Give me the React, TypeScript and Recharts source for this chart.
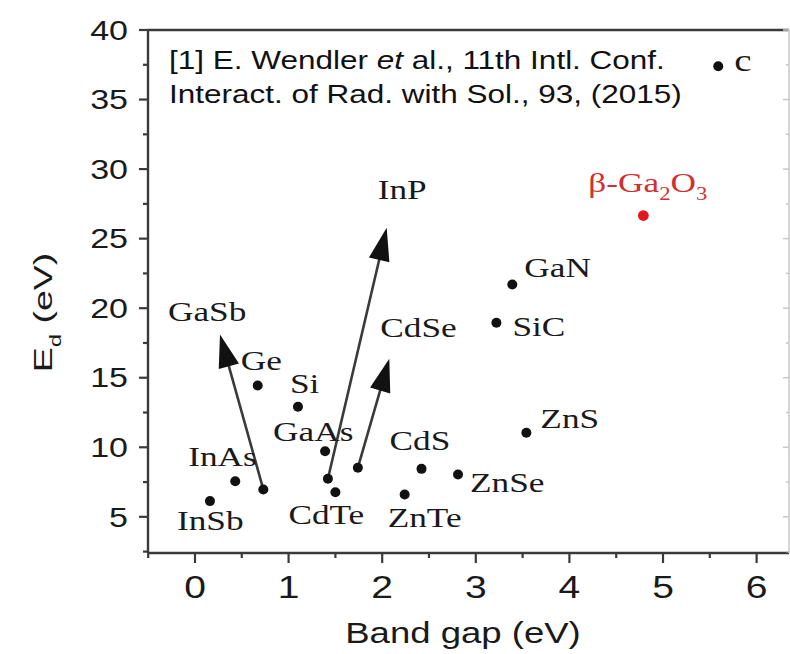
import React from 'react';
import { ScatterChart, Scatter, XAxis, YAxis, ReferenceLine, Customized } from 'recharts';

// Threshold displacement energy vs. band gap for common semiconductors
const materials = ['InSb', 'InAs', 'GaSb', 'Ge', 'Si', 'GaAs', 'InP', 'CdTe', 'CdSe', 'ZnTe', 'CdS', 'ZnSe', 'SiC', 'GaN', 'ZnS', 'c'];
const bandGapEv = [0.16, 0.43, 0.73, 0.67, 1.1, 1.39, 1.42, 1.5, 1.74, 2.24, 2.42, 2.81, 3.22, 3.39, 3.54, 5.59];
const displacementEv = [6.13, 7.56, 6.97, 14.44, 12.91, 9.72, 7.74, 6.77, 8.53, 6.61, 8.45, 8.04, 18.95, 21.7, 11.04, 37.4];

// Highlighted oxide
const oxideBandGapEv = [4.79];
const oxideDisplacementEv = [26.66];

// Arrows from a material's point to a revised value
const arrowFrom = ['GaSb', 'InP', 'CdSe'];
const arrowToBandGap = [0.267, 2.048, 2.076];
const arrowToDisplacement = [18.11, 25.78, 16.36];

// Axis ticks
const xTicks = [-0.5, 0, 0.5, 1, 1.5, 2, 2.5, 3, 3.5, 4, 4.5, 5, 5.5, 6];
const xTickLabels = ['0', '1', '2', '3', '4', '5', '6'];
const yTicks = [2.5, 5, 7.5, 10, 12.5, 15, 17.5, 20, 22.5, 25, 27.5, 30, 32.5, 35, 37.5, 40];
const yTickLabels = ['5', '10', '15', '20', '25', '30', '35', '40'];

const X_DOMAIN: [number, number] = [-0.502, 6.346];
const Y_DOMAIN: [number, number] = [2.4, 40];

const SERIF = '"Liberation Serif", "Times New Roman", "DejaVu Serif", serif';
const SANS = '"Liberation Sans", Arial, "DejaVu Sans", sans-serif';
const STRETCH = 1.26;
const AXIS_COLOR = '#3a3a3a';
const INK = '#1a1a1a';

// Label placement relative to each point (px)
const labelOffsets: Record<string, [number, number]> = {
  InSb: [-33, 29],
  InAs: [-47, -15],
  Ge: [-17, -16],
  Si: [-8, -14],
  GaAs: [-52, -10],
  CdTe: [-47, 32],
  ZnTe: [-17, 33],
  CdS: [-32, -19],
  ZnSe: [12, 17],
  SiC: [16, 13],
  GaN: [12, -8],
  ZnS: [14, -5],
  c: [16, 5],
};
const labelSizes: Record<string, number> = { c: 31 };
// Label placement relative to each arrow tip (px)
const arrowLabelOffsets: Record<string, [number, number]> = {
  GaSb: [-52, -13],
  InP: [-9, -29],
  CdSe: [-9, -22],
};

const points = materials.map((name, i) => ({ name, gap: bandGapEv[i], ed: displacementEv[i] }));
const oxidePoints = oxideBandGapEv.map((gap, i) => ({ name: 'β-Ga2O3', gap, ed: oxideDisplacementEv[i] }));

function Stretched(props: {
  x: number; y: number; size: number; family: string; fill?: string;
  anchor?: 'start' | 'middle' | 'end'; sx?: number; children: React.ReactNode;
}) {
  const { x, y, size, family, fill = INK, anchor = 'start', sx = STRETCH, children } = props;
  return (
    <g transform={`translate(${x},${y}) scale(${sx},1)`}>
      <text x={0} y={0} fontSize={size} fontFamily={family} fill={fill} textAnchor={anchor}>
        {children}
      </text>
    </g>
  );
}

const PointShape = (props: any) => {
  const { cx, cy, payload } = props;
  const off = labelOffsets[payload.name];
  return (
    <g>
      <circle cx={cx} cy={cy} r={5} fill="#111" />
      {off && (
        <Stretched x={cx + off[0]} y={cy + off[1]} size={labelSizes[payload.name] ?? 28} family={SERIF}>
          {payload.name}
        </Stretched>
      )}
    </g>
  );
};

const OxideShape = (props: any) => {
  const { cx, cy } = props;
  return (
    <g>
      <circle cx={cx} cy={cy} r={5.4} fill="#e8161c" />
      <g transform={`translate(${cx - 55},${cy - 24}) scale(${STRETCH},1)`}>
        <text x={0} y={0} fontSize={28} fontFamily={SERIF} fill="#cf3030">
          β-Ga
          <tspan dy={8} fontSize={18}>2</tspan>
          <tspan dy={-8}>O</tspan>
          <tspan dy={8} fontSize={18}>3</tspan>
        </text>
      </g>
    </g>
  );
};

const makeArrowShape = (name: string) => (props: any) => {
  const { x1, y1, x2, y2 } = props;
  const dx = x2 - x1;
  const dy = y2 - y1;
  const len = Math.hypot(dx, dy) || 1;
  const ux = dx / len;
  const uy = dy / len;
  const headLen = 33;
  const headHalf = 10.5;
  const bx = x2 - ux * headLen;
  const by = y2 - uy * headLen;
  const px = -uy;
  const py = ux;
  const off = arrowLabelOffsets[name];
  return (
    <g>
      <line x1={x1} y1={y1} x2={bx + ux * 4} y2={by + uy * 4} stroke="#3a3a3a" strokeWidth={2.6} />
      <polygon
        points={`${x2},${y2} ${bx + px * headHalf},${by + py * headHalf} ${bx - px * headHalf},${by - py * headHalf}`}
        fill="#111"
      />
      {off && (
        <Stretched x={x2 + off[0]} y={y2 + off[1]} size={28} family={SERIF}>
          {name}
        </Stretched>
      )}
    </g>
  );
};

const isMajorX = (v: number) => Math.abs(v - Math.round(v)) < 1e-6;
const isMajorY = (v: number) => Math.abs(v / 5 - Math.round(v / 5)) < 1e-6;

const BottomTick = (props: any) => {
  const { x, y, payload } = props;
  const v = payload.value;
  const major = isMajorX(v);
  const label = major ? xTickLabels[Math.round(v)] : undefined;
  return (
    <g>
      <line x1={x} y1={y} x2={x} y2={y + (major ? 10 : 5)} stroke={AXIS_COLOR} strokeWidth={2.2} />
      {label !== undefined && (
        <Stretched x={x} y={y + 45} size={31} family={SANS} anchor="middle">
          {label}
        </Stretched>
      )}
    </g>
  );
};

const TopTick = (props: any) => {
  const { x, y, payload } = props;
  const major = isMajorX(payload.value);
  return <line x1={x} y1={y} x2={x} y2={y - (major ? 10 : 5)} stroke={AXIS_COLOR} strokeWidth={2.2} />;
};

const LeftTick = (props: any) => {
  const { x, y, payload } = props;
  const v = payload.value;
  const major = isMajorY(v);
  const idx = Math.round(v / 5) - 1;
  const label = major ? yTickLabels[idx] : undefined;
  return (
    <g>
      <line x1={x} y1={y} x2={x - (major ? 9 : 5)} y2={y} stroke={AXIS_COLOR} strokeWidth={2.2} />
      {label !== undefined && (
        <Stretched x={x - 20} y={y + 9.7} size={27} family={SANS} anchor="end">
          {label}
        </Stretched>
      )}
    </g>
  );
};

const RightTick = (props: any) => {
  const { x, y, payload } = props;
  const major = isMajorY(payload.value);
  return <line x1={x} y1={y} x2={x - (major ? 6 : 3)} y2={y} stroke="#c8c8c8" strokeWidth={1.5} />;
};

const Annotations = () => (
  <g>
    <g transform={`translate(169,69.3) scale(${STRETCH},1)`}>
      <text x={0} y={0} fontSize={25} fontFamily={SANS} fill="#111">
        [1] E. Wendler <tspan fontStyle="italic">et</tspan> al., 11th Intl. Conf.
      </text>
    </g>
    <Stretched x={169} y={103.3} size={25} family={SANS} fill="#111">
      Interact. of Rad. with Sol., 93, (2015)
    </Stretched>
    <Stretched x={463} y={643} size={29} family={SANS} anchor="middle">
      Band gap (eV)
    </Stretched>
    <g transform="translate(52,312.5) rotate(-90) scale(1.5,1)">
      <text x={0} y={0} fontSize={25} fontFamily={SANS} fill={INK} textAnchor="middle">
        E<tspan dy={9} fontSize={16}>d</tspan>
        <tspan dy={-9}> (eV)</tspan>
      </text>
    </g>
  </g>
);

export default function App() {
  return (
    <div style={{ position: 'absolute', left: 0, top: 0, width: 790, height: 654, background: '#fff', overflow: 'hidden' }}>
      <ScatterChart width={790} height={654} margin={{ top: 29, right: 0, bottom: 100, left: 147 }}>
        <XAxis
          type="number"
          dataKey="gap"
          domain={X_DOMAIN}
          ticks={xTicks}
          interval={0}
          height={1}
          tickSize={0}
          tickMargin={0}
          tickLine={false}
          tick={<BottomTick />}
          axisLine={{ stroke: AXIS_COLOR, strokeWidth: 2.4 }}
          allowDataOverflow
        />
        <XAxis
          xAxisId="top"
          orientation="top"
          type="number"
          domain={X_DOMAIN}
          ticks={xTicks}
          interval={0}
          height={1}
          tickSize={0}
          tickMargin={0}
          tickLine={false}
          tick={<TopTick />}
          axisLine={{ stroke: AXIS_COLOR, strokeWidth: 2.4 }}
          allowDataOverflow
        />
        <YAxis
          type="number"
          dataKey="ed"
          domain={Y_DOMAIN}
          ticks={yTicks}
          interval={0}
          width={1}
          tickSize={0}
          tickMargin={0}
          tickLine={false}
          tick={<LeftTick />}
          axisLine={{ stroke: AXIS_COLOR, strokeWidth: 2.4 }}
          allowDataOverflow
        />
        <YAxis
          yAxisId="right"
          orientation="right"
          type="number"
          domain={Y_DOMAIN}
          ticks={yTicks}
          interval={0}
          width={1}
          tickSize={0}
          tickMargin={0}
          tickLine={false}
          tick={<RightTick />}
          axisLine={{ stroke: '#c8c8c8', strokeWidth: 1.5 }}
          allowDataOverflow
        />
        {arrowFrom.map((name, i) => {
          const k = materials.indexOf(name);
          return (
            <ReferenceLine
              key={name}
              segment={[
                { x: bandGapEv[k], y: displacementEv[k] },
                { x: arrowToBandGap[i], y: arrowToDisplacement[i] },
              ]}
              shape={makeArrowShape(name)}
              ifOverflow="visible"
            />
          );
        })}
        <Scatter data={points} shape={PointShape} isAnimationActive={false} />
        <Scatter data={oxidePoints} shape={OxideShape} isAnimationActive={false} />
        <Customized component={<Annotations />} />
      </ScatterChart>
    </div>
  );
}
